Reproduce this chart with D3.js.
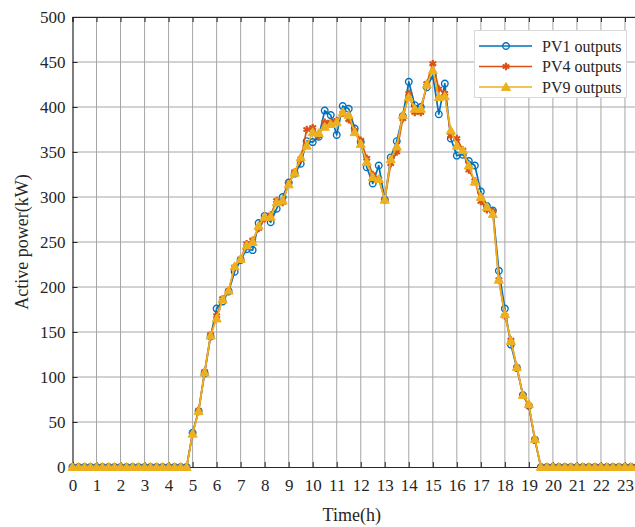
<!DOCTYPE html>
<html>
<head>
<meta charset="utf-8">
<script src="https://cdn.jsdelivr.net/npm/d3@7"></script>
<style>
  html, body { margin: 0; padding: 0; background: #fff; }
  svg { display: block; }
  text { font-family: "Liberation Serif", "Times New Roman", serif; fill: #262626; }
</style>
</head>
<body>
<svg id="chart" width="635" height="527"></svg>
<script>
// Active power of three PV units sampled every 15 minutes (0:00 .. 23:45)
const STEP = 0.25;
const zerosMorning = 20;   // 0:00 .. 4:45
const zerosEvening = 18;   // 19:30 .. 23:45

// Daylight samples, 5:00 .. 19:15
const pv1Day = [38, 62, 104, 145, 176, 184, 195, 217, 230, 242, 241, 271, 279, 272, 287, 300,
  316, 326, 337, 362, 361, 367, 396, 391, 369, 401, 398, 376, 361, 333, 315, 335,
  297, 344, 362, 390, 428, 402, 400, 422, 435, 392, 426, 365, 346, 347, 340, 335,
  306, 290, 285, 218, 176, 136, 110, 80, 68, 30];
const pv4Day = [37, 63, 106, 147, 168, 187, 196, 222, 231, 248, 252, 265, 276, 280, 296, 294,
  315, 328, 342, 375, 377, 368, 383, 383, 385, 393, 386, 374, 363, 343, 325, 320,
  297, 337, 350, 387, 415, 394, 394, 426, 448, 420, 415, 368, 365, 352, 330, 318,
  295, 286, 284, 208, 168, 141, 111, 80, 68, 31];
const pv9Day = [37, 62, 105, 146, 165, 186, 196, 223, 231, 246, 250, 268, 278, 278, 294, 296,
  314, 327, 344, 357, 372, 371, 378, 381, 383, 394, 391, 372, 359, 339, 322, 320,
  297, 342, 356, 391, 411, 398, 398, 425, 441, 411, 412, 374, 357, 352, 335, 317,
  300, 289, 281, 208, 170, 140, 111, 80, 70, 31];

const seriesNames = ["PV1 outputs", "PV4 outputs", "PV9 outputs"];
const seriesColors = ["#0072BD", "#D95319", "#EDB120"];
const xTicks = d3.range(0, 24);
const yTicks = d3.range(0, 501, 50);

const fullDay = day => [...Array(zerosMorning).fill(0), ...day, ...Array(zerosEvening).fill(0)];
const series = [pv1Day, pv4Day, pv9Day].map((day, i) => ({
  name: seriesNames[i],
  color: seriesColors[i],
  values: fullDay(day).map((v, k) => ({ t: k * STEP, v }))
}));

const svg = d3.select("#chart");
const plotLeft = 72.5, plotTop = 17, plotBottom = 467;
const hourPx = 24.02;
const x = d3.scaleLinear().domain([0, 24]).range([plotLeft, plotLeft + 24 * hourPx]);
const y = d3.scaleLinear().domain([0, 500]).range([plotBottom, plotTop]);
const plotRight = x(24);

// grid
const grid = svg.append("g");
grid.selectAll("line.v").data(xTicks.slice(1)).join("line")
  .attr("x1", d => x(d)).attr("x2", d => x(d))
  .attr("y1", plotTop).attr("y2", plotBottom)
  .attr("stroke", "#a6a6a6").attr("stroke-width", 1);
grid.selectAll("line.h").data(yTicks.slice(1)).join("line")
  .attr("x1", plotLeft).attr("x2", plotRight)
  .attr("y1", d => y(d)).attr("y2", d => y(d))
  .attr("stroke", "#a6a6a6").attr("stroke-width", 1);

// axes with inward ticks
const axisColor = "#262626";
const xAxis = svg.append("g").attr("transform", `translate(0,${plotBottom})`)
  .call(d3.axisBottom(x).tickValues(xTicks).tickSize(-5).tickPadding(12).tickFormat(d3.format("d")));
const xAxisTop = svg.append("g").attr("transform", `translate(0,${plotTop})`)
  .call(d3.axisTop(x).tickValues(xTicks).tickSize(-5).tickFormat(""));
const yAxis = svg.append("g").attr("transform", `translate(${plotLeft},0)`)
  .call(d3.axisLeft(y).tickValues(yTicks).tickSize(-5).tickPadding(7));
[xAxis, xAxisTop, yAxis].forEach(g => {
  g.select(".domain").attr("stroke", axisColor).attr("stroke-width", 1.2);
  g.selectAll(".tick line").attr("stroke", axisColor).attr("stroke-width", 1);
  g.selectAll(".tick text").attr("font-size", 17)
    .attr("font-family", "'Liberation Serif', 'Times New Roman', serif").attr("fill", "#262626");
});

// axis titles
svg.append("text").attr("x", x(11.5) + 3).attr("y", 521)
  .attr("text-anchor", "middle").attr("font-size", 18).text("Time(h)");
svg.append("text").attr("transform", `translate(28,${(plotTop + plotBottom) / 2}) rotate(-90)`)
  .attr("text-anchor", "middle").attr("font-size", 18).text("Active power(kW)");

// series lines and markers
const line = d3.line().x(d => x(d.t)).y(d => y(d.v));
const circle = d3.symbol().type(d3.symbolCircle).size(34);
const triangle = d3.symbol().type(d3.symbolTriangle).size(36);

function drawMarker(sel, idx, color) {
  if (idx === 0) {
    sel.append("path").attr("d", circle()).attr("fill", "none")
      .attr("stroke", color).attr("stroke-width", 1.4);
  } else if (idx === 1) {
    const r = 3.8;
    [0, 60, 120].forEach(a => {
      const rad = a * Math.PI / 180;
      sel.append("line")
        .attr("x1", -r * Math.sin(rad)).attr("y1", -r * Math.cos(rad))
        .attr("x2", r * Math.sin(rad)).attr("y2", r * Math.cos(rad))
        .attr("stroke", color).attr("stroke-width", 2.2);
    });
  } else {
    sel.append("path").attr("d", triangle()).attr("fill", color)
      .attr("stroke", color).attr("stroke-width", 1).attr("transform", "translate(0,0.8)");
  }
}

svg.append("clipPath").attr("id", "plotClip")
  .append("rect").attr("x", plotLeft - 6).attr("y", plotTop - 6)
  .attr("width", 635 - plotLeft + 6).attr("height", plotBottom - plotTop + 12);

const plot = svg.append("g").attr("clip-path", "url(#plotClip)");
series.forEach((s, i) => {
  const g = plot.append("g");
  g.append("path").datum(s.values).attr("d", line)
    .attr("fill", "none").attr("stroke", s.color).attr("stroke-width", 1.7)
    .attr("stroke-linejoin", "round");
  g.selectAll("g.m").data(s.values).join("g")
    .attr("transform", d => `translate(${x(d.t)},${y(d.v)})`)
    .each(function () { drawMarker(d3.select(this), i, s.color); });
});

// legend
const lg = svg.append("g");
lg.append("rect").attr("x", 474.5).attr("y", 30.5).attr("width", 152).attr("height", 67)
  .attr("fill", "#fff").attr("stroke", "#d9d9d9").attr("stroke-width", 1);
series.forEach((s, i) => {
  const cy = 46 + i * 20.5;
  lg.append("line").attr("x1", 479).attr("x2", 532).attr("y1", cy).attr("y2", cy)
    .attr("stroke", s.color).attr("stroke-width", 1.7);
  const m = lg.append("g").attr("transform", `translate(506,${cy})`);
  drawMarker(m, i, s.color);
  lg.append("text").attr("x", 542).attr("y", cy + 5.5).attr("font-size", 16).text(s.name);
});
</script>
</body>
</html>
